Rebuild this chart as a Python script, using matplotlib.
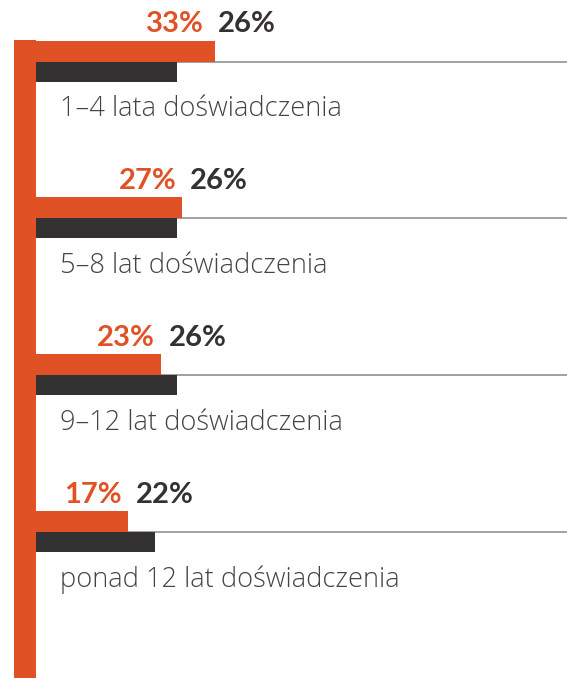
import matplotlib
matplotlib.use("Agg")
import matplotlib.pyplot as plt
import numpy as np

categories = ["1–4 lata doświadczenia", "5–8 lat doświadczenia",
              "9–12 lat doświadczenia", "ponad 12 lat doświadczenia"]
orange_vals = [33, 27, 23, 17]
dark_vals = [26, 26, 26, 22]

ORANGE = "#E05226"
DARK = "#333132"
GRAY_LINE = "#9a9a9a"
TEXT = "#444444"

W, H = 567, 678
fig = plt.figure(figsize=(W / 100, H / 100), dpi=100)
ax = fig.add_axes([0, 0, 1, 1])

px_per_unit = 5.42
x0_px = 36
ax.set_xlim(-x0_px / px_per_unit, (W - x0_px) / px_per_unit)
ax.set_ylim(H, 0)
ax.axis("off")

spacing = 156.7
first_line = 61.5
bar_h = 21
lines = first_line + spacing * np.arange(len(categories))

# vertical orange spine
ax.bar(-11 / px_per_unit, H - 40, width=22 / px_per_unit, bottom=40,
       color=ORANGE, linewidth=0)

ax.barh(lines - bar_h / 2, orange_vals, height=bar_h, left=0, color=ORANGE, linewidth=0)
ax.barh(lines + bar_h / 2 - 0.5, dark_vals, height=bar_h - 1, left=0, color=DARK, linewidth=0)

for i, y in enumerate(lines):
    ax.plot([0, ax.get_xlim()[1]], [y, y], color=GRAY_LINE, lw=1.3, zorder=0.5)
    c = orange_vals[i] + (-4 if i == 0 else 1) / px_per_unit
    ax.text(c - 7 / px_per_unit, y - 37, f"{orange_vals[i]}%", color=ORANGE,
            ha="right", va="center", fontsize=21, fontweight="bold", family="Lato")
    ax.text(c + 7 / px_per_unit, y - 37, f"{dark_vals[i]}%", color=DARK,
            ha="left", va="center", fontsize=21, fontweight="bold", family="Lato")
    ax.text(24 / px_per_unit, y + 48, categories[i], color=TEXT,
            ha="left", va="center", fontsize=19.6, fontweight="light", family="Open Sans")

fig.savefig("out.png", dpi=100)
